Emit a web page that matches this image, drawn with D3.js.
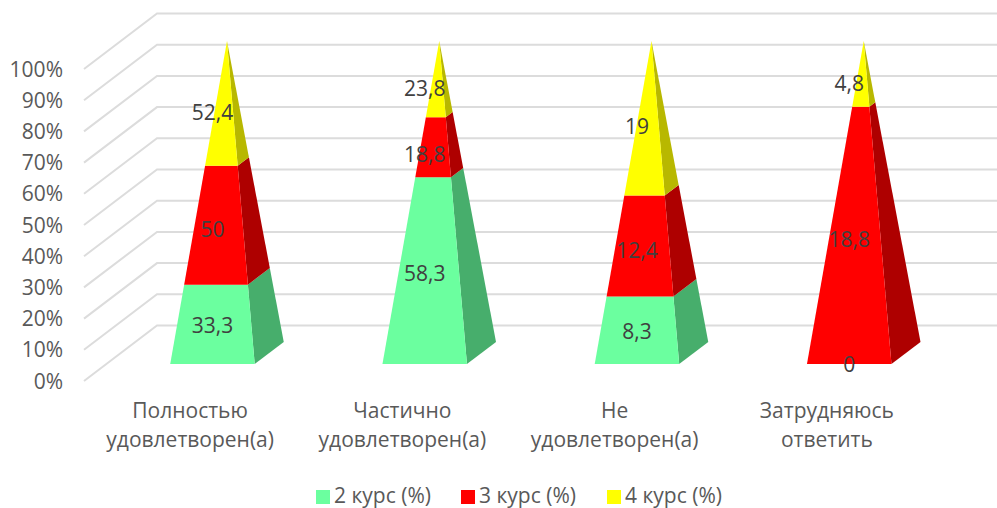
<!DOCTYPE html>
<html>
<head>
<meta charset="utf-8">
<script src="https://cdn.jsdelivr.net/npm/d3@7"></script>
<style>
  html, body { margin: 0; padding: 0; background: #fff; overflow: hidden; }
  text { font-family: "Open Sans", sans-serif; }
</style>
</head>
<body>
<script>
const categories = [
  ["Полностью", "удовлетворен(а)"],
  ["Частично", "удовлетворен(а)"],
  ["Не", "удовлетворен(а)"],
  ["Затрудняюсь", "ответить"],
];
const course2 = [33.3, 58.3, 8.3, 0];
const course3 = [50, 18.8, 12.4, 18.8];
const course4 = [52.4, 23.8, 19, 4.8];
const valueLabels = [
  ["33,3", "58,3", "8,3", "0"],
  ["50", "18,8", "12,4", "18,8"],
  ["52,4", "23,8", "19", "4,8"],
];
const seriesNames = ["2 курс (%)", "3 курс (%)", "4 курс (%)"];
const frontColors = ["#6bff9f", "#ff0000", "#ffff00"];
const sideColors = ["#47ae6c", "#ae0000", "#b8b800"];
const ticks = [0, 0.1, 0.2, 0.3, 0.4, 0.5, 0.6, 0.7, 0.8, 0.9, 1];

const width = 997;
const height = 508;
const fontSize = 21;
// oblique floor: depth 0 is the front of the plot, depth 1 the back wall
const depthX = 73;
const depthY = -55.5;

const svg = d3
  .select("body")
  .append("svg")
  .attr("width", width)
  .attr("height", height)
  .style("display", "block");

const x = d3
  .scaleBand()
  .domain(d3.range(categories.length))
  .range([84, 933])
  .paddingInner(0.602)
  .paddingOuter(0.301);
const y = d3.scaleLinear().domain([0, 1]).range([381, 69]);

const rows = categories.map((c, i) => ({
  i,
  s0: course2[i],
  s1: course3[i],
  s2: course4[i],
}));
const stacked = d3
  .stack()
  .keys(["s0", "s1", "s2"])
  .offset(d3.stackOffsetExpand)(rows);

// Grid
const grid = svg.append("g");
ticks.forEach((t) => {
  grid
    .append("path")
    .attr(
      "d",
      d3.line()([
        [84, y(t)],
        [84 + depthX, y(t) + depthY],
        [933 + depthX, y(t) + depthY],
      ])
    )
    .attr("fill", "none")
    .attr("stroke", "#dcdcdc")
    .attr("stroke-width", 2);
});

// y labels
const yLabels = d3.format(".0%");
svg
  .append("g")
  .selectAll("text")
  .data(ticks)
  .enter()
  .append("text")
  .attr("x", 63)
  .attr("y", (d) => y(d) + 7.5)
  .attr("text-anchor", "end")
  .attr("fill", "#595959")
  .attr("font-size", fontSize)
  .text((d) => yLabels(d));

// Pyramids. A point of the square base is pulled to the apex by the stacked share.
const depthFront = 0.306;
const depthBack = 0.704;

function point(i, side, depth, share) {
  const left = x(i);
  const cx = left + x.bandwidth() / 2;
  const baseX = side === "l" ? left : left + x.bandwidth();
  const d = depth + (0.505 - depth) * share;
  const px = baseX + (cx - baseX) * share + d * depthX;
  const py = y(share) + d * depthY;
  return [px, py];
}

stacked.forEach((layer, s) => {
  const g = svg.append("g");
  layer.forEach((seg, i) => {
    const a = seg[0];
    const b = seg[1];
    if (b - a <= 0) return;
    g.append("path")
      .attr(
        "d",
        d3.line()([
          point(i, "r", depthFront, a),
          point(i, "r", depthBack, a),
          point(i, "r", depthBack, b),
          point(i, "r", depthFront, b),
        ]) + "Z"
      )
      .attr("fill", sideColors[s]);
    g.append("path")
      .attr(
        "d",
        d3.line()([
          point(i, "l", depthFront, a),
          point(i, "r", depthFront, a),
          point(i, "r", depthFront, b),
          point(i, "l", depthFront, b),
        ]) + "Z"
      )
      .attr("fill", frontColors[s]);
  });
});

// data labels sit on the front plane
stacked.forEach((layer, s) => {
  layer.forEach((seg, i) => {
    const mid = (seg[0] + seg[1]) / 2;
    svg
      .append("text")
      .attr("x", x(i) + x.bandwidth() / 2 + depthFront * depthX)
      .attr("y", y(mid) + depthFront * depthY + 7.5)
      .attr("text-anchor", "middle")
      .attr("fill", "#404040")
      .attr("font-size", fontSize)
      .text(valueLabels[s][i]);
  });
});

// Category labels
categories.forEach((lines, i) => {
  const t = svg
    .append("text")
    .attr("text-anchor", "middle")
    .attr("fill", "#595959")
    .attr("font-size", fontSize);
  lines.forEach((line, k) => {
    t.append("tspan")
      .attr("x", x(i) + x.bandwidth() / 2)
      .attr("y", 418 + k * 29)
      .text(line);
  });
});

// Legend
const legendX = d3.scaleOrdinal().domain(seriesNames).range([316, 461, 607]);
const legend = svg
  .append("g")
  .selectAll("g")
  .data(seriesNames)
  .enter()
  .append("g")
  .attr("transform", (d) => `translate(${legendX(d)}, 490)`);
legend
  .append("rect")
  .attr("width", 14)
  .attr("height", 14)
  .attr("fill", (d, i) => frontColors[i]);
legend
  .append("text")
  .attr("x", 18)
  .attr("y", 13)
  .attr("fill", "#595959")
  .attr("font-size", fontSize)
  .text((d) => d);
</script>
</body>
</html>
